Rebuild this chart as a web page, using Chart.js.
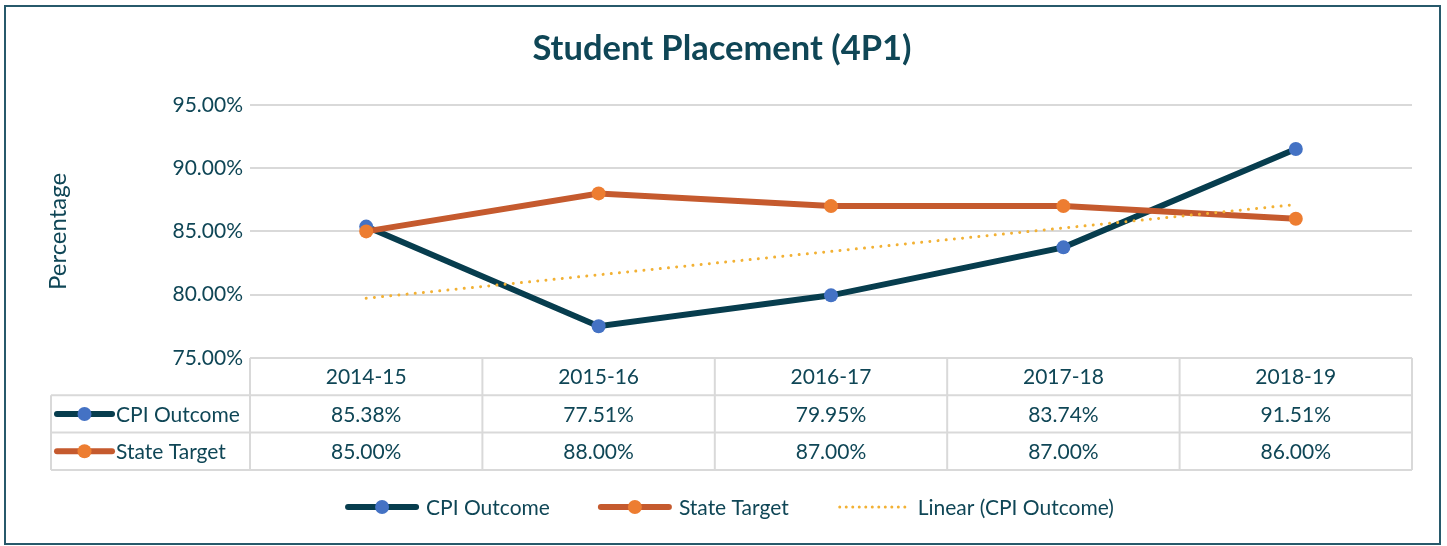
<!DOCTYPE html>
<html><head><meta charset="utf-8">
<script src="https://cdn.jsdelivr.net/npm/chart.js@4/dist/chart.umd.min.js"></script>
<style>html,body{margin:0;padding:0;background:#fff}#wrap{width:1447px;height:546px}</style>
</head><body><div id="wrap"><canvas id="c" width="1447" height="546"></canvas></div>
<script>
const categories = ['2014-15', '2015-16', '2016-17', '2017-18', '2018-19'];
const cpiOutcome = [85.38, 77.51, 79.95, 83.74, 91.51];
const stateTarget = [85.00, 88.00, 87.00, 87.00, 86.00];
const trendCpi = [79.72, null, null, null, 87.12];
const yTicks = [75, 80, 85, 90, 95];

const FONT = 'Lato, "Open Sans", sans-serif';
const TXT = '#0f4656';
const CPI_LINE = '#073d4e', CPI_DOT = '#4472c4';
const ST_LINE = '#c55a2e', ST_DOT = '#ed7d31';
const TREND = '#f2b134';
const GRID = '#d9d9d9';

function fmt(v){ return v.toFixed(2) + '%'; }

function drawKey(ctx, x0, x1, y, line, dot){
  ctx.save();
  ctx.strokeStyle = line; ctx.lineWidth = 6; ctx.lineCap = 'round';
  ctx.beginPath(); ctx.moveTo(x0, y); ctx.lineTo(x1, y); ctx.stroke();
  ctx.fillStyle = dot; ctx.beginPath(); ctx.arc((x0 + x1) / 2, y, 7, 0, Math.PI * 2); ctx.fill();
  ctx.restore();
}
function drawDotKey(ctx, x0, x1, y, color){
  ctx.save();
  ctx.strokeStyle = color; ctx.lineWidth = 3; ctx.lineCap = 'round';
  ctx.setLineDash([0.01, 6.5]);
  ctx.beginPath(); ctx.moveTo(x0, y); ctx.lineTo(x1, y); ctx.stroke();
  ctx.restore();
}

const tablePlugin = {
  id: 'tableLegend',
  beforeDraw(chart){
    const ctx = chart.ctx;
    ctx.save(); ctx.fillStyle = '#fff'; ctx.fillRect(0, 0, chart.width, chart.height); ctx.restore();
  },
  afterDraw(chart){
    const ctx = chart.ctx, xs = chart.scales.x, area = chart.chartArea;
    const n = categories.length;
    const cw = (area.right - area.left) / n;
    const top = area.bottom;
    const rowH = 37.3;
    const tableLeft = 51;
    ctx.save();
    ctx.strokeStyle = GRID; ctx.lineWidth = 2;
    for (let i = 0; i <= n; i++){
      const xx = i < n ? xs.getPixelForValue(i) - cw / 2 : xs.getPixelForValue(n - 1) + cw / 2;
      ctx.beginPath(); ctx.moveTo(xx, top); ctx.lineTo(xx, top + 3 * rowH); ctx.stroke();
    }
    ctx.beginPath(); ctx.moveTo(tableLeft, top + rowH); ctx.lineTo(tableLeft, top + 3 * rowH); ctx.stroke();
    for (let r = 1; r <= 3; r++){
      ctx.beginPath(); ctx.moveTo(tableLeft, top + r * rowH); ctx.lineTo(area.right, top + r * rowH); ctx.stroke();
    }
    ctx.fillStyle = TXT; ctx.font = '21px ' + FONT; ctx.textBaseline = 'middle'; ctx.textAlign = 'center';
    categories.forEach((c, i) => ctx.fillText(c, xs.getPixelForValue(i), top + rowH / 2 + 1));
    const rows = [
      {name: 'CPI Outcome', vals: cpiOutcome, line: CPI_LINE, dot: CPI_DOT},
      {name: 'State Target', vals: stateTarget, line: ST_LINE, dot: ST_DOT}
    ];
    rows.forEach((r, k) => {
      const cy = top + rowH * (k + 1.5) + 1;
      ctx.textAlign = 'center';
      r.vals.forEach((v, i) => ctx.fillText(fmt(v), xs.getPixelForValue(i), cy));
      drawKey(ctx, 57, 112, cy - 1, r.line, r.dot);
      ctx.fillStyle = TXT; ctx.textAlign = 'left';
      ctx.fillText(r.name, 116, cy);
    });
    const ly = 507;
    const items = [
      {name: 'CPI Outcome', type: 'line', line: CPI_LINE, dot: CPI_DOT},
      {name: 'State Target', type: 'line', line: ST_LINE, dot: ST_DOT},
      {name: 'Linear (CPI Outcome)', type: 'dot', line: TREND}
    ];
    const keyW = 74, keyGap = 7, itemGap = 48;
    ctx.font = '21px ' + FONT;
    const widths = items.map(it => keyW + keyGap + ctx.measureText(it.name).width);
    const total = widths.reduce((a, b) => a + b, 0) + itemGap * (items.length - 1);
    let x = 729.5 - total / 2;
    items.forEach((it, i) => {
      if (it.type === 'line') drawKey(ctx, x + 3, x + keyW - 3, ly, it.line, it.dot);
      else drawDotKey(ctx, x + 3, x + keyW - 3, ly, it.line);
      ctx.fillStyle = TXT; ctx.textAlign = 'left'; ctx.textBaseline = 'middle';
      ctx.fillText(it.name, x + keyW + keyGap, ly + 1);
      x += widths[i] + itemGap;
    });
    ctx.strokeStyle = '#27596b'; ctx.lineWidth = 2;
    ctx.strokeRect(5, 6, 1435, 538);
    ctx.restore();
  }
};

new Chart(document.getElementById('c'), {
  type: 'line',
  data: {
    labels: categories,
    datasets: [
      {label: 'CPI Outcome', data: cpiOutcome, borderColor: CPI_LINE, borderWidth: 6,
       pointBackgroundColor: CPI_DOT, pointBorderColor: CPI_DOT, pointRadius: 7, pointBorderWidth: 0, order: 2, tension: 0},
      {label: 'State Target', data: stateTarget, borderColor: ST_LINE, borderWidth: 6,
       pointBackgroundColor: ST_DOT, pointBorderColor: ST_DOT, pointRadius: 7, pointBorderWidth: 0, order: 1, tension: 0},
      {label: 'Linear (CPI Outcome)', data: trendCpi, borderColor: TREND, borderWidth: 3,
       borderDash: [0.01, 8.2], borderCapStyle: 'round', pointRadius: 0, spanGaps: true, order: 0, tension: 0}
    ]
  },
  options: {
    responsive: false,
    animation: false,
    devicePixelRatio: 1,
    layout: {padding: {left: 32, right: 35, top: 0, bottom: 0}},
    plugins: {
      legend: {display: false},
      tooltip: {enabled: false},
      title: {display: true, text: 'Student Placement (4P1)', color: TXT,
        font: {family: FONT, size: 34.5, weight: 'bold', lineHeight: 1.2}, padding: {top: 28, bottom: 35.4}}
    },
    scales: {
      x: {
        offset: true,
        grid: {display: false}, border: {display: false},
        ticks: {display: false},
        afterFit(s){ s.height = 188; }
      },
      y: {
        min: 75, max: 95,
        afterBuildTicks(s){ s.ticks = yTicks.map(v => ({value: v})); },
        grid: {color: GRID, lineWidth: 2, drawTicks: false},
        border: {display: false},
        ticks: {color: TXT, font: {family: FONT, size: 21}, padding: 7, callback: v => fmt(v)},
        title: {display: true, text: 'Percentage', color: TXT, font: {family: FONT, size: 24}, padding: {top: 11.6, bottom: 0}},
        afterFit(s){ s.width = 218; }
      }
    }
  },
  plugins: [tablePlugin]
});
</script></body></html>
